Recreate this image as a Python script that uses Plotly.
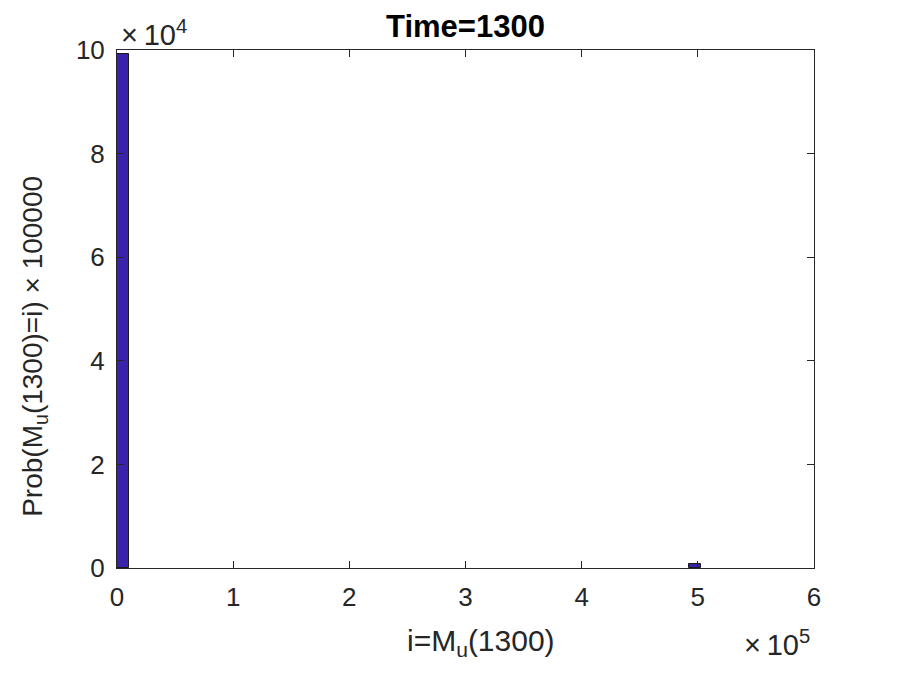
import plotly.graph_objects as go

# bin centers (i) and counts (Prob * 100000)
bin_centers = [5200, 497500]
bin_counts = [99150, 850]
bin_width = 11000

x_tick_vals = [0, 100000, 200000, 300000, 400000, 500000, 600000]
x_tick_text = ["0", "1", "2", "3", "4", "5", "6"]
y_tick_vals = [0, 20000, 40000, 60000, 80000, 100000]
y_tick_text = ["0", "2", "4", "6", "8", "10"]

font_family = "Liberation Sans, Arial, Helvetica, sans-serif"
axis_color = "#262626"

fig = go.Figure()
fig.add_trace(go.Bar(
    x=bin_centers, y=bin_counts, width=[bin_width] * len(bin_centers),
    marker=dict(color="#3a22aa", line=dict(color="#1a1a1a", width=1)),
    showlegend=False,
))

L, R, T, B = 109, 94, 42, 115
fig.update_layout(
    width=900, height=675,
    paper_bgcolor="white", plot_bgcolor="white",
    margin=dict(l=L, r=R, t=T, b=B, autoexpand=False),
    font=dict(family=font_family, color=axis_color, size=26),
    title=dict(text="<b>Time=1300</b>", x=(L + 900 - R) / 2 / 900, xanchor="center",
               y=1 - 18 / 675, yanchor="middle", font=dict(size=31, color="black")),
    bargap=0,
)
fig.update_xaxes(
    range=[0, 600000], tickvals=x_tick_vals, ticktext=x_tick_text,
    showline=True, linecolor=axis_color, linewidth=1, mirror="ticks",
    ticks="inside", ticklen=7, tickcolor=axis_color, showgrid=False, zeroline=False,
    tickfont=dict(size=26), ticklabelstandoff=6,
)
fig.update_yaxes(
    range=[0, 100000], tickvals=y_tick_vals, ticktext=y_tick_text,
    showline=True, linecolor=axis_color, linewidth=1, mirror="ticks",
    ticks="inside", ticklen=7, tickcolor=axis_color, showgrid=False, zeroline=False,
    tickfont=dict(size=26), ticklabelstandoff=6,
)
# axis titles
fig.add_annotation(text="i=M<sub>u</sub>(1300)", xref="paper", yref="paper",
                   x=0.522, y=0, xanchor="center", yanchor="middle", yshift=-74,
                   showarrow=False, font=dict(size=30, color=axis_color))
fig.add_annotation(text="Prob(M<sub>u</sub>(1300)=i) × 100000", xref="paper", yref="paper",
                   x=0, y=0.427, xanchor="center", yanchor="middle", xshift=-82,
                   textangle=-90, showarrow=False, font=dict(size=28, color=axis_color))
# exponent labels
fig.add_annotation(text="×\u200910<sup>4</sup>", xref="paper", yref="paper", x=0, y=1,
                   xanchor="left", yanchor="bottom", showarrow=False,
                   font=dict(size=29, color=axis_color), yshift=-3, xshift=2)
fig.add_annotation(text="×\u200910<sup>5</sup>", xref="paper", yref="paper", x=1, y=0,
                   xanchor="right", yanchor="top", showarrow=False,
                   font=dict(size=29, color=axis_color), xshift=-2, yshift=-55)

fig.write_html("out.html")
